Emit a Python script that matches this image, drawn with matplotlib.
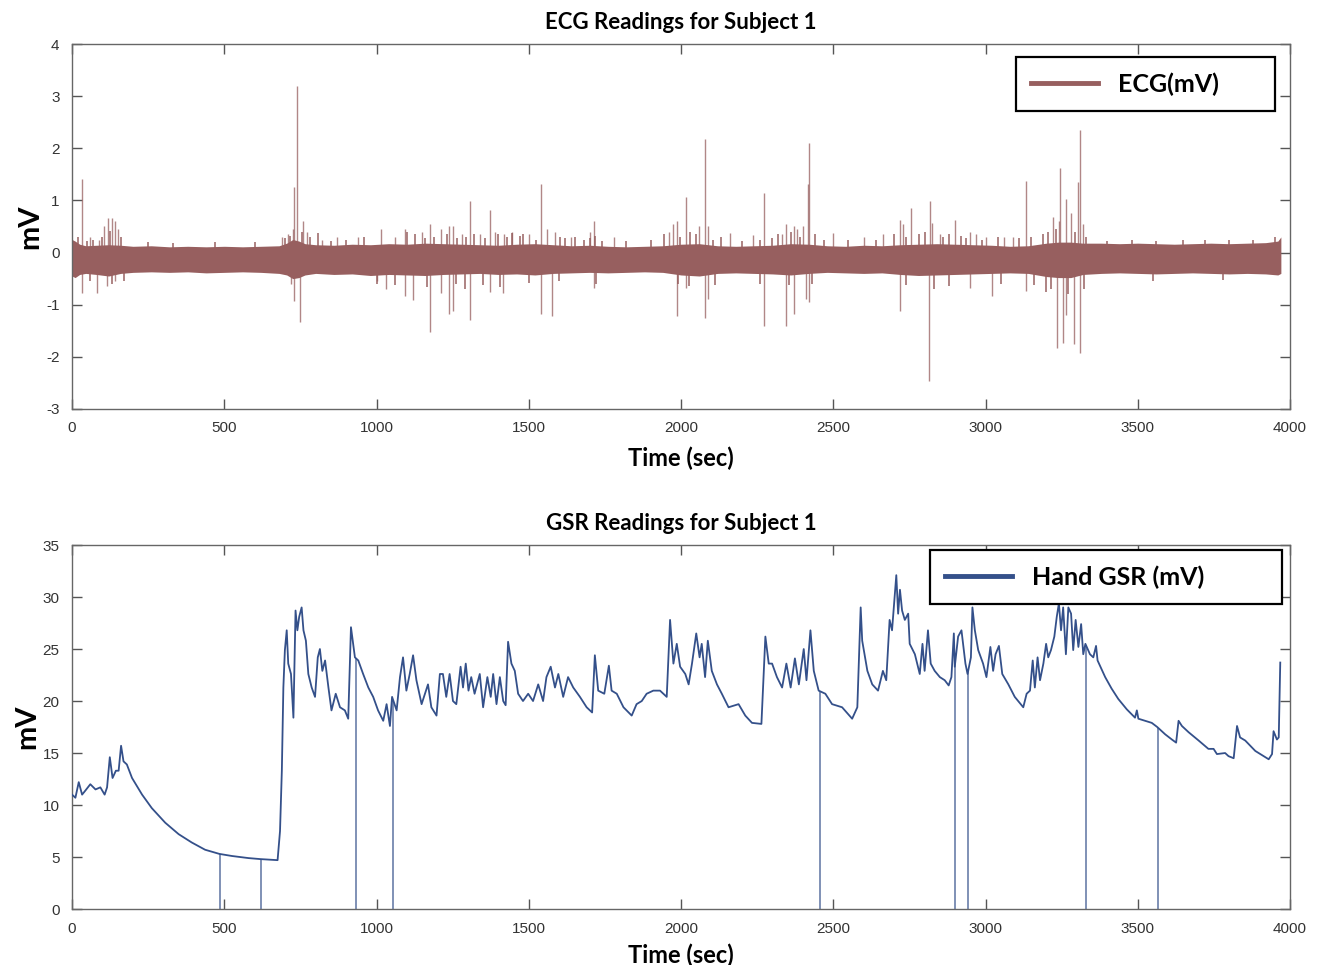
import numpy as np
import matplotlib.pyplot as plt
from matplotlib.lines import Line2D

plt.rcParams["axes.unicode_minus"] = False

# ECG band envelope (time, upper edge, lower edge) in mV
ecg_env_t = [0, 10, 25, 45, 80, 120, 160, 200, 260, 320, 380, 440, 500, 560, 620, 680, 705,
             725, 745, 765, 800, 860, 920, 980, 1040, 1100, 1160, 1220, 1280, 1340, 1400,
             1460, 1520, 1580, 1640, 1700, 1760, 1820, 1880, 1940, 2000, 2060, 2120, 2180,
             2240, 2300, 2360, 2420, 2480, 2540, 2600, 2660, 2720, 2780, 2840, 2900, 2960,
             3020, 3080, 3140, 3200, 3240, 3280, 3320, 3380, 3440, 3500, 3560, 3620, 3680,
             3740, 3800, 3860, 3920, 3960, 3970]
ecg_hi = [0.25, 0.22, 0.16, 0.13, 0.14, 0.15, 0.14, 0.12, 0.13, 0.11, 0.12, 0.11, 0.12, 0.11,
          0.12, 0.13, 0.18, 0.25, 0.22, 0.17, 0.15, 0.14, 0.16, 0.15, 0.17, 0.16, 0.18, 0.17,
          0.16, 0.15, 0.14, 0.16, 0.17, 0.15, 0.13, 0.14, 0.12, 0.11, 0.12, 0.13, 0.16, 0.17,
          0.13, 0.12, 0.13, 0.14, 0.17, 0.16, 0.13, 0.12, 0.14, 0.13, 0.15, 0.16, 0.17, 0.16,
          0.15, 0.14, 0.12, 0.13, 0.18, 0.20, 0.20, 0.18, 0.18, 0.17, 0.18, 0.17, 0.16, 0.17,
          0.18, 0.17, 0.18, 0.19, 0.22, 0.30]
ecg_lo = [-0.45, -0.48, -0.42, -0.40, -0.42, -0.45, -0.40, -0.38, -0.37, -0.38, -0.37, -0.39,
          -0.38, -0.37, -0.38, -0.40, -0.43, -0.50, -0.48, -0.43, -0.40, -0.42, -0.41, -0.44,
          -0.42, -0.43, -0.44, -0.42, -0.41, -0.40, -0.42, -0.41, -0.43, -0.40, -0.39, -0.38,
          -0.39, -0.38, -0.37, -0.38, -0.43, -0.45, -0.40, -0.39, -0.40, -0.41, -0.43, -0.40,
          -0.38, -0.39, -0.40, -0.39, -0.42, -0.44, -0.43, -0.42, -0.41, -0.40, -0.39, -0.40,
          -0.46, -0.48, -0.48, -0.42, -0.40, -0.39, -0.40, -0.41, -0.40, -0.39, -0.40, -0.41,
          -0.40, -0.41, -0.43, -0.40]

# ECG spikes (time, peak mV)
spike_t = [32, 60, 81, 90, 105, 115, 118, 130, 140, 142, 152, 690, 710, 720, 725, 730, 730,
           738, 747, 760, 770, 820, 870, 940, 1000, 1015, 1030, 1060, 1093, 1093, 1121, 1150,
           1176, 1176, 1211, 1211, 1239, 1239, 1250, 1250, 1280, 1307, 1307, 1340, 1373, 1373,
           1390, 1416, 1420, 1445, 1500, 1540, 1540, 1560, 1575, 1585, 1640, 1700, 1714, 1714,
           1780, 1960, 1975, 1986, 1986, 2016, 2016, 2060, 2079, 2079, 2090, 2090, 2161, 2237,
           2274, 2274, 2330, 2345, 2345, 2372, 2372, 2380, 2400, 2410, 2416, 2421, 2421, 2498,
           2600, 2664, 2719, 2719, 2730, 2754, 2813, 2818, 2824, 2850, 2900, 2950, 2950, 2970,
           3000, 3020, 3060, 3090, 3132, 3132, 3221, 3234, 3240, 3246, 3256, 3263, 3265, 3280,
           3289, 3305, 3310, 3310, 3320, 32]
spike_v = [1.42, 0.30, -0.78, 0.25, 0.50, -0.65, 0.66, 0.66, -0.55, 0.60, 0.45, 0.30, 0.35,
           -0.60, 0.45, 1.26, -0.93, 3.19, -1.33, 0.60, 0.40, 0.25, 0.30, 0.30, -0.55, 0.45,
           -0.70, 0.30, 0.45, -0.83, -0.91, 0.40, 0.55, -1.52, 0.45, -0.78, 0.50, -1.17, 0.50,
           -1.13, 0.35, 0.98, -1.29, 0.35, 0.82, -0.75, 0.40, -0.78, 0.35, 0.40, 0.35, 1.31,
           -1.17, 0.45, -1.22, 0.40, 0.30, 0.40, 0.61, -0.68, 0.30, 0.40, 0.55, 0.60, -1.22,
           1.07, -0.68, 0.50, 2.17, -1.26, 0.50, -0.90, 0.38, 0.33, 1.14, -1.41, 0.35, 0.55,
           -1.41, 0.50, -1.17, 0.45, 0.50, -0.90, 1.31, 2.10, -0.94, 0.38, 0.30, 0.36, 0.63,
           -1.13, 0.55, 0.85, -2.46, 0.99, 0.56, 0.35, 0.63, 0.40, -0.68, 0.35, 0.30, -0.83,
           0.30, 0.30, 1.38, -0.74, 0.68, -1.84, 0.60, 1.63, -1.74, 1.03, -1.20, 0.75, -1.76,
           1.35, 2.35, -1.92, 0.55, -0.78]

# small bumps on the edges of the ECG band (time, mV)
fuzz_t = [20, 50, 70, 100, 125, 160, 250, 330, 470, 600, 700, 715, 755, 780, 809, 850, 900,
          960, 1099, 1126, 1160, 1190, 1230, 1265, 1295, 1320, 1355, 1400, 1430, 1444, 1470,
          1482, 1525, 1603, 1620, 1652, 1680, 1701, 1718, 1740, 1820, 1900, 1945, 1995, 2030,
          2050, 2105, 2130, 2200, 2260, 2300, 2320, 2360, 2390, 2440, 2470, 2550, 2640, 2700,
          2740, 2780, 2800, 2860, 2880, 2920, 2935, 2990, 3040, 3110, 3150, 3190, 3205, 3230,
          3295, 3330, 3400, 3480, 3560, 3650, 3720, 3800, 3880, 3950, 60, 130, 170, 1000,
          1060, 1165, 1260, 1290, 1350, 1405, 1500, 1600, 1720, 1990, 2025, 2110, 2260, 2355,
          2430, 2740, 2830, 2880, 3050, 3160, 3200, 3215, 3270, 3325, 3550, 3780]
fuzz_v = [0.30, 0.22, 0.25, 0.30, 0.42, 0.30, 0.20, 0.18, 0.20, 0.20, 0.28, 0.32, 0.40, 0.30,
          0.38, 0.22, 0.25, 0.30, 0.40, 0.35, 0.28, 0.30, 0.35, 0.28, 0.30, 0.35, 0.28, 0.35,
          0.30, 0.38, 0.32, 0.35, 0.25, 0.30, 0.28, 0.30, 0.25, 0.28, 0.32, 0.22, 0.22, 0.25,
          0.35, 0.30, 0.40, 0.35, 0.25, 0.30, 0.22, 0.25, 0.28, 0.35, 0.40, 0.30, 0.35, 0.25,
          0.25, 0.25, 0.35, 0.30, 0.35, 0.40, 0.30, 0.35, 0.32, 0.28, 0.25, 0.30, 0.28, 0.30,
          0.35, 0.40, 0.45, 0.40, 0.30, 0.22, 0.25, 0.22, 0.25, 0.24, 0.25, 0.24, 0.30, -0.55,
          -0.60, -0.55, -0.60, -0.62, -0.66, -0.60, -0.70, -0.62, -0.66, -0.58, -0.55, -0.60,
          -0.60, -0.65, -0.62, -0.60, -0.62, -0.60, -0.62, -0.70, -0.65, -0.60, -0.62, -0.75,
          -0.70, -0.80, -0.70, -0.55, -0.52]

# GSR trace (time, mV)
gsr_t = [0, 11, 22, 33, 44, 60, 77, 93, 107, 115, 124, 133, 144, 153, 161, 169, 180, 197,
         230, 262, 306, 350, 393, 437, 484, 525, 579, 619, 675, 683, 689, 694, 699, 705, 710,
         719, 727, 734, 740, 746, 754, 760, 768, 776, 787, 798, 807, 814, 822, 831, 842, 852,
         866, 880, 896, 907, 916, 923, 929, 940, 956, 973, 989, 1005, 1022, 1033, 1044, 1051,
         1066, 1077, 1087, 1098, 1109, 1120, 1131, 1148, 1169, 1180, 1197, 1208, 1218, 1229,
         1240, 1251, 1262, 1276, 1284, 1293, 1302, 1311, 1322, 1339, 1350, 1364, 1375, 1383,
         1394, 1405, 1416, 1424, 1432, 1443, 1454, 1465, 1481, 1498, 1514, 1531, 1547, 1558,
         1572, 1586, 1597, 1613, 1629, 1646, 1668, 1690, 1708, 1717, 1728, 1748, 1763, 1772,
         1789, 1811, 1838, 1854, 1871, 1887, 1909, 1931, 1953, 1964, 1975, 1986, 1997, 2014,
         2025, 2036, 2050, 2061, 2068, 2079, 2088, 2101, 2118, 2134, 2156, 2189, 2211, 2233,
         2264, 2277, 2288, 2299, 2315, 2332, 2346, 2360, 2374, 2387, 2403, 2412, 2425, 2436,
         2452, 2474, 2496, 2529, 2562, 2579, 2590, 2595, 2612, 2628, 2647, 2663, 2674, 2685,
         2693, 2700, 2707, 2713, 2719, 2726, 2735, 2746, 2751, 2768, 2784, 2793, 2800, 2811,
         2820, 2833, 2850, 2866, 2879, 2888, 2896, 2899, 2910, 2921, 2934, 2941, 2952, 2957,
         2965, 2976, 2992, 3003, 3016, 3025, 3033, 3044, 3055, 3075, 3096, 3124, 3135, 3146,
         3155, 3162, 3171, 3179, 3190, 3199, 3206, 3215, 3226, 3234, 3241, 3248, 3255, 3264,
         3272, 3281, 3288, 3296, 3305, 3314, 3321, 3328, 3343, 3354, 3363, 3368, 3393, 3414,
         3436, 3464, 3491, 3497, 3502, 3524, 3546, 3564, 3590, 3612, 3626, 3634, 3645, 3667,
         3700, 3732, 3749, 3760, 3787, 3798, 3815, 3826, 3836, 3853, 3886, 3919, 3930, 3941,
         3946, 3957, 3963, 3968]
gsr_v = [11.0, 10.7, 12.2, 11.0, 11.4, 12.0, 11.5, 11.7, 11.0, 11.7, 14.6, 12.6, 13.3, 13.3,
         15.7, 14.2, 13.9, 12.6, 11.0, 9.7, 8.3, 7.2, 6.4, 5.7, 5.3, 5.1, 4.9, 4.8, 4.7, 7.5,
         13.3, 21.3, 24.9, 26.8, 23.6, 22.6, 18.4, 28.7, 26.8, 28.1, 29.0, 26.8, 25.8, 22.6,
         21.3, 20.4, 24.2, 25.0, 22.9, 23.9, 21.3, 19.1, 20.7, 19.4, 19.1, 18.3, 27.1, 25.5,
         24.2, 23.9, 22.6, 21.3, 20.4, 19.1, 18.1, 19.7, 17.6, 20.4, 19.1, 22.3, 24.2, 21.0,
         22.6, 24.4, 22.0, 19.7, 21.6, 19.4, 18.6, 22.6, 22.6, 20.4, 22.6, 20.0, 19.7, 23.3,
         21.3, 23.6, 21.0, 22.3, 20.7, 22.6, 19.4, 22.3, 20.4, 22.6, 19.7, 22.3, 20.0, 19.6,
         25.7, 23.6, 22.9, 20.7, 20.0, 20.7, 20.0, 21.6, 20.0, 22.3, 23.3, 21.3, 22.6, 20.4,
         22.3, 21.3, 20.4, 19.4, 18.9, 24.4, 21.0, 20.7, 23.4, 21.0, 20.7, 19.4, 18.6, 19.7,
         20.0, 20.7, 21.0, 21.0, 20.4, 27.8, 23.6, 25.5, 23.3, 22.6, 21.6, 23.6, 26.5, 24.2,
         25.5, 22.3, 25.8, 22.9, 21.6, 20.7, 19.4, 19.7, 18.6, 17.9, 17.8, 26.2, 23.6, 23.6,
         22.3, 21.3, 23.6, 21.3, 24.1, 21.6, 25.0, 22.0, 26.8, 22.9, 21.0, 20.7, 19.7, 19.4,
         18.3, 19.4, 29.0, 25.8, 22.9, 21.6, 21.0, 22.9, 22.0, 27.8, 26.8, 29.4, 32.1, 28.4,
         30.7, 28.7, 27.8, 28.4, 25.5, 24.5, 22.6, 25.5, 22.9, 26.8, 23.6, 22.9, 22.3, 22.0,
         21.5, 22.3, 26.5, 23.3, 26.2, 26.8, 23.6, 22.6, 24.2, 29.0, 26.8, 24.9, 23.6, 22.3,
         25.2, 22.9, 24.5, 25.3, 22.6, 21.6, 20.4, 19.4, 20.7, 21.0, 23.9, 21.3, 24.2, 22.0,
         23.6, 25.5, 24.2, 24.9, 26.2, 28.1, 29.4, 26.8, 29.0, 24.5, 29.0, 28.4, 24.9, 27.8,
         25.2, 27.4, 24.5, 25.5, 24.5, 24.2, 25.3, 23.9, 22.3, 21.2, 20.2, 19.2, 18.4, 19.1,
         18.3, 18.1, 17.9, 17.5, 16.8, 16.3, 16.0, 18.1, 17.6, 17.0, 16.2, 15.4, 15.4, 14.9,
         15.0, 14.7, 14.5, 17.6, 16.5, 16.2, 15.2, 14.6, 14.4, 14.9, 17.1, 16.3, 16.5, 23.7]

# moments where the GSR signal drops out to 0
gsr_drop_t = [486, 621, 931, 1055, 2456, 2901, 2943, 3330, 3566]

ecg_color = "#975f5f"
gsr_color = "#34508a"
title_font = "Lato"
tick_color = "#333333"

fig = plt.figure(figsize=(13.22, 9.65), dpi=100)
ax1 = fig.add_axes([0.0545, 0.5762, 0.9213, 0.3782])
ax2 = fig.add_axes([0.0545, 0.0580, 0.9213, 0.3772])


def style_axes(ax):
    ax.tick_params(direction="in", top=True, right=True, length=7, width=1,
                   colors="#555555", labelcolor=tick_color, labelsize=11, pad=9)
    for s in ax.spines.values():
        s.set_color("#666666")
        s.set_linewidth(1.0)
    for lab in ax.get_xticklabels() + ax.get_yticklabels():
        lab.set_family("Liberation Sans")


def box_legend(ax, color, label, x0, y_top, width):
    leg = ax.legend(handles=[Line2D([], [], color=color, lw=3.5)], labels=[label],
                    loc="upper left", bbox_to_anchor=(x0, y_top - 0.2, width, 0.2),
                    mode="expand", borderaxespad=0, frameon=True, fancybox=False,
                    framealpha=1, handlelength=2.7, handletextpad=0.8, borderpad=0.6,
                    prop={"family": title_font, "weight": "bold", "size": 18})
    leg.get_frame().set_edgecolor("black")
    leg.get_frame().set_linewidth(1.6)
    leg.set_zorder(5)
    return leg


# ECG panel
ax1.fill_between(ecg_env_t, ecg_lo, ecg_hi, color=ecg_color, lw=0, zorder=2)
ax1.vlines(fuzz_t, -0.12, fuzz_v, color=ecg_color, lw=1.2, alpha=0.9, zorder=2)
ax1.vlines(spike_t, -0.12, spike_v, color=ecg_color, lw=1.0, alpha=0.75, zorder=2)
ax1.set_xlim(0, 4000)
ax1.set_ylim(-3, 4)
ax1.set_xticks(range(0, 4001, 500))
ax1.set_yticks(range(-3, 5))
style_axes(ax1)
ax1.set_title("ECG Readings for Subject 1", family=title_font, fontweight="bold",
              fontsize=16, pad=11)
ax1.set_xlabel("Time (sec)", family=title_font, fontweight="bold", fontsize=17, labelpad=8)
ax1.set_ylabel("mV", family=title_font, fontweight="bold", fontsize=21, labelpad=2)
box_legend(ax1, ecg_color, "ECG(mV)", 0.775, 0.964, 0.2126)

# GSR panel
ax2.plot(gsr_t, gsr_v, color=gsr_color, lw=1.3, zorder=3)
ax2.vlines(gsr_drop_t, 0, np.interp(gsr_drop_t, gsr_t, gsr_v), color=gsr_color,
           lw=1.1, alpha=0.8, zorder=2)
ax2.set_xlim(0, 4000)
ax2.set_ylim(0, 35)
ax2.set_xticks(range(0, 4001, 500))
ax2.set_yticks(range(0, 36, 5))
style_axes(ax2)
ax2.set_title("GSR Readings for Subject 1", family=title_font, fontweight="bold",
              fontsize=16, pad=11)
ax2.set_xlabel("Time (sec)", family=title_font, fontweight="bold", fontsize=17, labelpad=6)
ax2.set_ylabel("mV", family=title_font, fontweight="bold", fontsize=21, labelpad=2)
box_legend(ax2, gsr_color, "Hand GSR (mV)", 0.7044, 0.986, 0.289)

fig.savefig("out.png", dpi=100, facecolor="white")
